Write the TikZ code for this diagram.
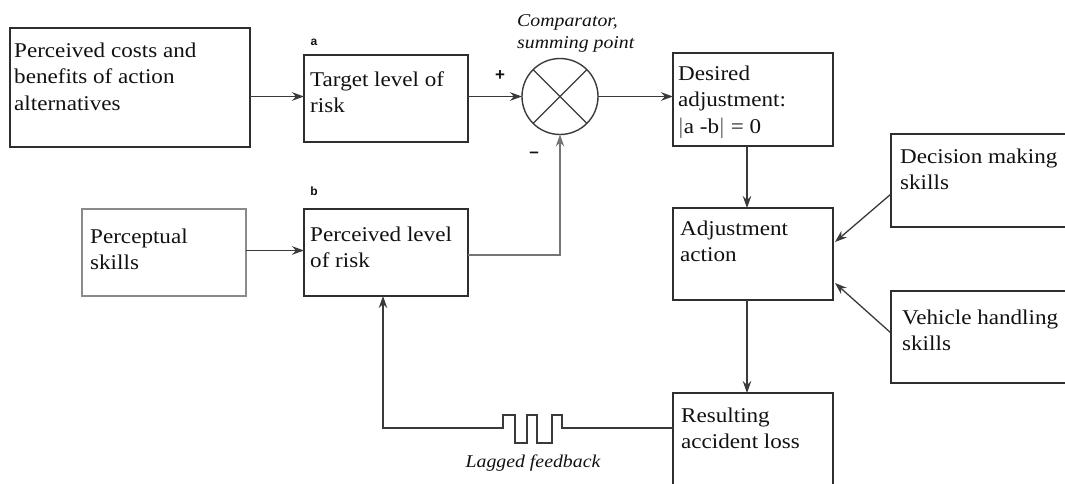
\documentclass[tikz,border=0pt]{standalone}
\usepackage{fontspec}
\setmainfont{Liberation Serif}[FakeStretch=1.1]
\setsansfont{Liberation Sans}
\usetikzlibrary{arrows.meta,calc}
\definecolor{linec}{HTML}{3A3A3A}
\definecolor{boxc}{HTML}{2E2E2E}
\definecolor{lightc}{HTML}{8A8A8A}
\definecolor{txtc}{HTML}{111111}
\begin{document}
\begin{tikzpicture}[x=1pt,y=-1pt,
  box/.style={draw=boxc, line width=1.6pt, anchor=north west, inner sep=0pt, outer sep=0pt},
  lbox/.style={box, draw=lightc, line width=1.9pt},
  txt/.style={anchor=base west, align=left, inner sep=0pt, text=txtc, font=\fontsize{21}{26.5}\selectfont},
  itxt/.style={inner sep=0pt, text=txtc, font=\fontsize{18}{22}\selectfont\itshape},
  tag/.style={inner sep=0pt, text=txtc, font=\sffamily\bfseries\fontsize{12}{13}\selectfont},
  arr/.style={draw=linec, line width=1.3pt, -{Stealth[length=12pt,width=8.5pt]}},
  ln/.style={draw=linec, line width=1.3pt}
]
\useasboundingbox (0,0) rectangle (1065,483);
\clip (0,0) rectangle (1065,483);

% boxes
\node[box, minimum width=240pt, minimum height=119pt] (costs) at (10,28) {};
\node[box, minimum width=164pt, minimum height=87pt] (target) at (304,55) {};
\node[lbox, minimum width=164pt, minimum height=87pt] (percep) at (82,209) {};
\node[box, minimum width=164pt, minimum height=87pt] (perceived) at (304,209) {};
\node[box, minimum width=160pt, minimum height=93pt] (desired) at (673,53) {};
\node[box, minimum width=160pt, minimum height=92pt] (adjust) at (673,208) {};
\node[box, minimum width=160pt, minimum height=110pt] (result) at (673,393) {};
\node[box, minimum width=190pt, minimum height=93pt] (decision) at (891,134) {};
\node[box, minimum width=190pt, minimum height=92pt] (vehicle) at (891,291) {};
\node[draw=linec, line width=1.4pt, circle, minimum size=76pt, inner sep=0pt, outer sep=0pt] (cmp) at (560,96.5) {};
\draw[linec, line width=1.3pt] (cmp.north west) -- (cmp.south east) (cmp.north east) -- (cmp.south west);

% texts (anchor = baseline of last line)
\node[txt] (tcosts) at ($(costs.north west)+(4,82)$) {Perceived costs and\\benefits of action\\alternatives};
\node[txt] (ttarget) at ($(target.north west)+(6,57.5)$) {Target level of\\risk};
\node[txt] (tpercep) at ($(percep.north west)+(8,60.5)$) {Perceptual\\skills};
\node[txt] (tperceived) at ($(perceived.north west)+(6,58.5)$) {Perceived level\\of risk};
\node[txt] (tdesired) at ($(desired.north west)+(5,80)$) {Desired\\adjustment:\\$|$a -b$|$ = 0};
\node[txt] (tadjust) at ($(adjust.north west)+(7,53.5)$) {Adjustment\\action};
\node[txt] (tresult) at ($(result.north west)+(8,55.5)$) {Resulting\\accident loss};
\node[txt] (tdecision) at ($(decision.north west)+(9,55.5)$) {Decision making\\skills};
\node[txt] (tvehicle) at ($(vehicle.north west)+(11,59.5)$) {Vehicle handling\\skills};

\node[itxt, anchor=base west, align=left] (tcmp) at (517,48) {Comparator,\\summing point};
\node[itxt, anchor=base] (tlag) at (533,467) {Lagged feedback};
\node[tag] (ta) at (314,42) {a};
\node[tag] (tb) at (314,191) {b};
\node[inner sep=0pt, text=txtc, font=\sffamily\bfseries\fontsize{17}{18}\selectfont] (plus) at (500,76) {+};
\node[inner sep=0pt, text=txtc, font=\sffamily\bfseries\fontsize{17}{18}\selectfont] (minus) at (534,155) {\textendash};

% connectors
\draw[arr] (costs.east |- cmp) -- (target.west |- cmp);
\draw[arr] (target.east |- cmp) -- (cmp.west);
\draw[arr] (cmp.east) -- (desired.west |- cmp);
\draw[arr] ($(percep.east)+(0,-2)$) -- ($(perceived.west)+(0,-2)$);
\draw[arr, draw=lightc!85!black] ($(perceived.east)+(0,2.5)$) -| (cmp.south);
\draw[arr] ($(desired.south)+(-6,0)$) -- ($(adjust.north)+(-6,0)$);
\draw[arr] ($(adjust.south)+(-6,0)$) -- ($(result.north)+(-6,0)$);
\draw[arr] ($(decision.west)+(0,13.5)$) -- ($(adjust.east)+(2,-12)$);
\draw[arr] ($(vehicle.west)+(0,-4)$) -- ($(adjust.east)+(2,29)$);

\coordinate (fb) at (result.west |- 0,428);
\coordinate (fbup) at ($(perceived.south)+(-3,0)$);
\draw[arr] (fb) -- (562,428) -- (562,415) -- (552,415) -- (552,443) -- (537,443)
  -- (537,415) -- (527,415) -- (527,443) -- (515,443) -- (515,415) -- (503,415)
  -- (503,428) -- (fbup |- 0,428) -- (fbup);
\end{tikzpicture}
\end{document}
